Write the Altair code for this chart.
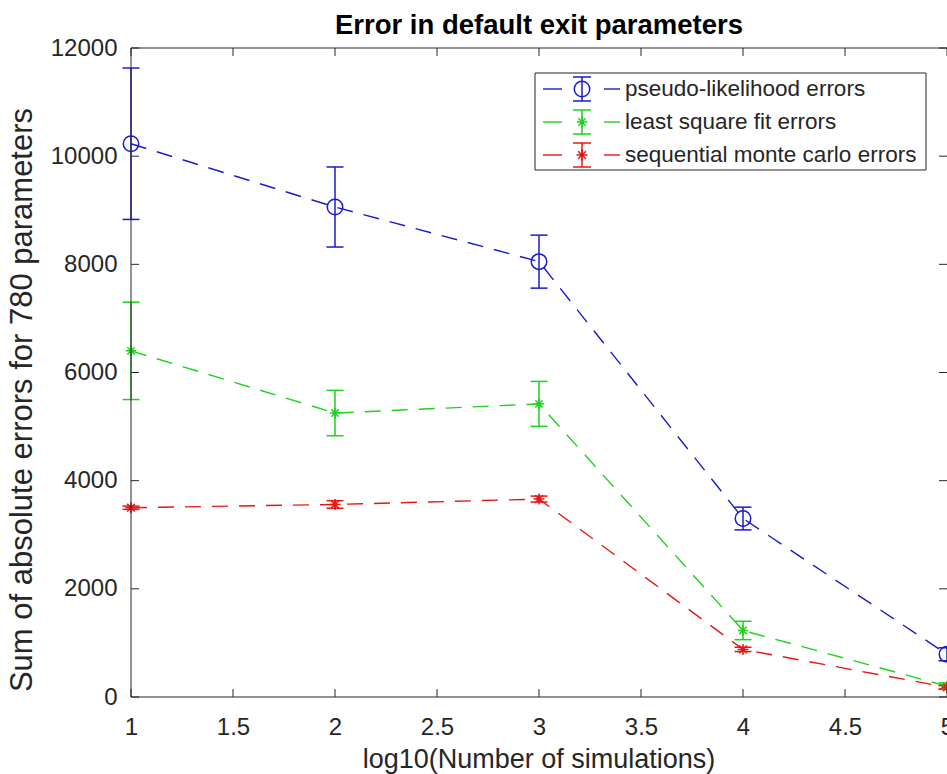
import altair as alt
import pandas as pd

# Number of simulations (log10) and the summed absolute errors per method
log_sims = [1, 2, 3, 4, 5]

pl_mean = [10230, 9060, 8050, 3300, 790]
pl_err = [1400, 740, 490, 210, 120]

ls_mean = [6400, 5250, 5420, 1230, 200]
ls_err = [900, 420, 415, 170, 60]

smc_mean = [3500, 3560, 3660, 880, 180]
smc_err = [30, 70, 55, 40, 30]

series_names = [
    "pseudo-likelihood errors",
    "least square fit errors",
    "sequential monte carlo errors",
]
series_colors = ["#1a1ad0", "#1ed21e", "#e81515"]

x_ticks = [1, 1.5, 2, 2.5, 3, 3.5, 4, 4.5, 5]
y_ticks = [0, 2000, 4000, 6000, 8000, 10000, 12000]

title_text = "Error in default exit parameters"
x_title = "log10(Number of simulations)"
y_title = "Sum of absolute errors for 780 parameters"

W, H = 816, 649
AXIS_COLOR = "#262626"
FONT = "Liberation Sans"
ASTERISK = "M-1,0L1,0M0,-1L0,1M-0.7,-0.7L0.7,0.7M-0.7,0.7L0.7,-0.7"
series_shapes = ["circle", ASTERISK, ASTERISK]
series_sizes = [240, 110, 120]

rows = []
for name, means, errs in zip(series_names, [pl_mean, ls_mean, smc_mean], [pl_err, ls_err, smc_err]):
    for x, m, e in zip(log_sims, means, errs):
        rows.append({"series": name, "x": x, "y": m, "lo": m - e, "hi": m + e})
df = pd.DataFrame(rows)

xs = alt.Scale(domain=[1, 5], nice=False, zero=False)
ys = alt.Scale(domain=[0, 12000], nice=False, zero=False)
color = alt.Color("series:N", scale=alt.Scale(domain=series_names, range=series_colors), legend=None)

x_axis = alt.Axis(values=x_ticks, format="~g", ticks=False, domain=False, grid=False, title=None,
                  labelFontSize=24, labelColor=AXIS_COLOR, labelFont=FONT, labelPadding=18,
                  labelFlush=False, labelOverlap=False)
y_axis = alt.Axis(values=y_ticks, format="d", ticks=False, domain=False, grid=False, title=None,
                  labelFontSize=24, labelColor=AXIS_COLOR, labelFont=FONT, labelPadding=14,
                  labelFlush=False, labelOverlap=False)


def X(field):
    return alt.X(field, type="quantitative", scale=xs, axis=x_axis)


def Y(field):
    return alt.Y(field, type="quantitative", scale=ys, axis=y_axis)


base = alt.Chart(df)

lines = base.mark_line(strokeDash=[16, 11], strokeWidth=1.4).encode(
    x=X("x"), y=Y("y"), color=color, detail="series:N",
)

bars = base.mark_rule(strokeWidth=1.5).encode(x=X("x"), y=Y("lo"), y2="hi:Q", color=color)
cap_hi = base.mark_rule(strokeWidth=1.5, xOffset=-8.5, x2Offset=8.5).encode(
    x=X("x"), x2="x:Q", y=Y("hi"), color=color,
)
cap_lo = base.mark_rule(strokeWidth=1.5, xOffset=-8.5, x2Offset=8.5).encode(
    x=X("x"), x2="x:Q", y=Y("lo"), color=color,
)

markers = []
for name, shape, size, col in zip(series_names, series_shapes, series_sizes, series_colors):
    markers.append(
        base.transform_filter(alt.datum.series == name).mark_point(
            shape=shape, size=size, filled=False, strokeWidth=1.5, color=col, opacity=1
        ).encode(x=X("x"), y=Y("y"))
    )

# MATLAB-style box with inward ticks
one = alt.Data(values=[{}])
tick_style = dict(color=AXIS_COLOR, strokeWidth=1)
xt = alt.Chart(pd.DataFrame({"t": x_ticks}))
yt = alt.Chart(pd.DataFrame({"t": y_ticks}))
ticks = [
    xt.mark_rule(**tick_style).encode(x=X("t"), y=alt.value(H), y2=alt.value(H - 8)),
    xt.mark_rule(**tick_style).encode(x=X("t"), y=alt.value(0), y2=alt.value(8)),
    yt.mark_rule(**tick_style).encode(y=Y("t"), x=alt.value(0), x2=alt.value(8)),
    yt.mark_rule(**tick_style).encode(y=Y("t"), x=alt.value(W), x2=alt.value(W - 8)),
]
frame = [
    alt.Chart(one).mark_rule(**tick_style).encode(x=alt.value(0), x2=alt.value(0), y=alt.value(0), y2=alt.value(H)),
    alt.Chart(one).mark_rule(**tick_style).encode(x=alt.value(0), x2=alt.value(W), y=alt.value(H), y2=alt.value(H)),
    alt.Chart(one).mark_rule(**tick_style).encode(x=alt.value(0), x2=alt.value(W), y=alt.value(0), y2=alt.value(0)),
]

texts = [
    alt.Chart(one).mark_text(text=title_text, font=FONT, fontSize=27.5, fontWeight="bold", color="#000000",
                             align="center", baseline="alphabetic").encode(x=alt.value(W / 2), y=alt.value(-14)),
    alt.Chart(one).mark_text(text=x_title, font=FONT, fontSize=27, color=AXIS_COLOR,
                             align="center", baseline="alphabetic").encode(x=alt.value(W / 2), y=alt.value(720)),
    alt.Chart(one).mark_text(text=y_title, font=FONT, fontSize=31, color=AXIS_COLOR, angle=270,
                             align="center", baseline="middle").encode(x=alt.value(-108), y=alt.value(352)),
]

# Legend box drawn in the upper right of the plot
leg_x0, leg_x1, leg_y0, leg_y1 = 404, 795, 25, 122
legend = [
    alt.Chart(one).mark_rect(fill="white", stroke=AXIS_COLOR, strokeWidth=1).encode(
        x=alt.value(leg_x0), x2=alt.value(leg_x1), y=alt.value(leg_y0), y2=alt.value(leg_y1))
]
row_y = [41, 74, 107]
for name, shape, size, col, ry in zip(series_names, series_shapes, series_sizes, series_colors, row_y):
    legend += [
        alt.Chart(one).mark_rule(color=col, strokeWidth=1.4).encode(
            x=alt.value(412), x2=alt.value(431), y=alt.value(ry), y2=alt.value(ry)),
        alt.Chart(one).mark_rule(color=col, strokeWidth=1.4).encode(
            x=alt.value(473), x2=alt.value(489), y=alt.value(ry), y2=alt.value(ry)),
        alt.Chart(one).mark_rule(color=col, strokeWidth=1.5).encode(
            x=alt.value(451), x2=alt.value(451), y=alt.value(ry - 12), y2=alt.value(ry + 12)),
        alt.Chart(one).mark_rule(color=col, strokeWidth=1.5).encode(
            x=alt.value(442), x2=alt.value(460), y=alt.value(ry - 12), y2=alt.value(ry - 12)),
        alt.Chart(one).mark_rule(color=col, strokeWidth=1.5).encode(
            x=alt.value(442), x2=alt.value(460), y=alt.value(ry + 12), y2=alt.value(ry + 12)),
        alt.Chart(one).mark_point(shape=shape, size=size, filled=False, strokeWidth=1.5, color=col,
                                  opacity=1).encode(x=alt.value(451), y=alt.value(ry)),
        alt.Chart(one).mark_text(text=name, font=FONT, fontSize=22.5, color=AXIS_COLOR, align="left",
                                 baseline="middle").encode(x=alt.value(494), y=alt.value(ry)),
    ]

chart = alt.layer(
    lines, bars, cap_hi, cap_lo, *markers, *ticks, *frame, *texts, *legend
).properties(
    width=W, height=H,
    autosize=alt.AutoSizeParams(type="none"),
    padding={"left": 131, "top": 48, "right": 0, "bottom": 77},
    background="white",
).configure_view(stroke=None)

chart.save("out.html", embed_options={"renderer": "svg", "actions": False})
